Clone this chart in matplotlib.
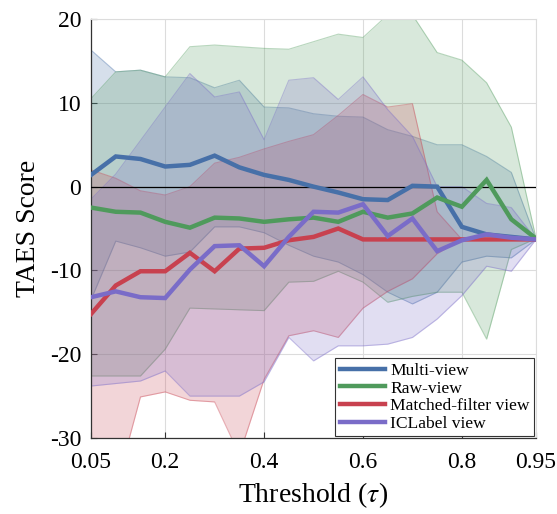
import matplotlib
matplotlib.use("Agg")
import matplotlib.pyplot as plt

plt.rcParams['font.family'] = ['Liberation Serif', 'DejaVu Serif']
plt.rcParams['mathtext.fontset'] = 'stix'

# ---------------- data ----------------
thresholds = [0.05, 0.10, 0.15, 0.20, 0.25, 0.30, 0.35, 0.40, 0.45, 0.50,
              0.55, 0.60, 0.65, 0.70, 0.75, 0.80, 0.85, 0.90, 0.95]

multi_mean = [1.4, 3.6, 3.3, 2.4, 2.6, 3.7, 2.3, 1.4, 0.8, 0.0,
              -0.7, -1.5, -1.6, 0.1, 0.0, -4.8, -5.7, -6.0, -6.3]
multi_upper = [16.3, 13.7, 13.9, 13.1, 13.0, 11.8, 12.7, 9.5, 9.4, 8.7,
               8.4, 8.3, 6.8, 6.0, 5.0, 5.0, 3.6, 1.7, -6.3]
multi_lower = [-13.5, -6.5, -7.3, -8.3, -7.8, -4.8, -4.8, -5.5, -7.0, -8.3,
               -9.0, -10.5, -12.6, -14.0, -12.6, -9.0, -8.3, -8.5, -6.3]

raw_mean = [-2.5, -3.0, -3.1, -4.2, -4.9, -3.7, -3.8, -4.2, -3.9, -3.7,
            -4.2, -3.0, -3.7, -3.2, -1.3, -2.4, 0.8, -3.9, -6.2]
raw_upper = [10.5, 13.7, 13.9, 13.1, 16.7, 16.9, 16.7, 16.5, 16.4, 17.3,
             18.2, 17.8, 20.5, 20.5, 16.0, 15.1, 12.4, 7.1, -6.2]
raw_lower = [-22.6, -22.6, -22.6, -19.4, -14.5, -14.6, -14.7, -14.8, -11.4, -11.3,
             -10.1, -11.4, -13.8, -13.1, -12.6, -12.6, -18.2, -7.5, -6.2]

mf_mean = [-15.2, -11.8, -10.1, -10.1, -7.9, -10.1, -7.4, -7.3, -6.4, -6.0,
           -5.0, -6.3, -6.3, -6.3, -6.3, -6.3, -6.3, -6.3, -6.3]
mf_upper = [2.0, 1.0, -0.5, -1.0, 0.0, 2.8, 3.5, 4.5, 5.4, 6.2,
            8.5, 11.0, 9.5, 9.9, -3.0, -6.3, -6.3, -6.3, -6.3]
mf_lower = [-38.0, -36.0, -25.1, -24.5, -25.5, -25.7, -32.0, -23.0, -17.8, -17.2,
            -18.0, -14.5, -12.5, -11.0, -8.0, -6.3, -6.3, -6.3, -6.3]

ic_mean = [-13.2, -12.5, -13.2, -13.3, -9.9, -7.1, -7.0, -9.5, -6.0, -3.0,
           -3.1, -2.1, -5.9, -3.8, -7.7, -6.4, -5.7, -6.1, -6.3]
ic_upper = [-1.5, 1.5, 5.5, 9.5, 13.5, 10.7, 11.3, 5.6, 12.7, 13.0,
            10.4, 13.1, 9.2, 6.0, 0.0, 0.0, -2.0, -2.5, -6.3]
ic_lower = [-23.8, -23.5, -23.2, -22.0, -25.0, -25.0, -25.0, -23.3, -18.0, -20.8,
            -19.0, -19.0, -18.8, -18.0, -15.8, -13.0, -9.5, -10.1, -6.3]

labels = ['Multi-view', 'Raw-view', 'Matched-filter view', 'ICLabel view']
colors = ['#4770a8', '#4f9a5c', '#c8414f', '#7a6cc8']

xtick_vals = [0.05, 0.2, 0.4, 0.6, 0.8, 0.95]
xtick_labels = ['0.05', '0.2', '0.4', '0.6', '0.8', '0.95']
ytick_vals = [-30, -20, -10, 0, 10, 20]
ytick_labels = ['-30', '-20', '-10', '0', '10', '20']

# ---------------- figure ----------------
fig = plt.figure(figsize=(5.57, 5.14), dpi=100)
ax = fig.add_axes([0.1634, 0.1479, 0.799, 0.815])

series = [(multi_mean, multi_lower, multi_upper),
          (raw_mean, raw_lower, raw_upper),
          (mf_mean, mf_lower, mf_upper),
          (ic_mean, ic_lower, ic_upper)]

for (m, lo, up), c in zip(series, colors):
    ax.fill_between(thresholds, lo, up, color=c, alpha=0.22, linewidth=0, zorder=1)
    ax.plot(thresholds, up, color=c, alpha=0.4, lw=0.8, zorder=1)
    ax.plot(thresholds, lo, color=c, alpha=0.4, lw=0.8, zorder=1)

ax.axhline(0, color='black', lw=0.9, zorder=3)

for (m, lo, up), c, lab in zip(series, colors, labels):
    ax.plot(thresholds, m, color=c, lw=3.2, label=lab, zorder=4,
            solid_joinstyle='miter')

ax.set_xlim(0.05, 0.95)
ax.set_ylim(-30, 20)
ax.set_xticks(xtick_vals)
ax.set_xticklabels(xtick_labels)
ax.set_yticks(ytick_vals)
ax.set_yticklabels(ytick_labels)

ax.grid(True, color='#dcdcdc', lw=0.8, zorder=0)
ax.set_axisbelow(True)
for s in ['top', 'right']:
    ax.spines[s].set_color('#dcdcdc')
    ax.spines[s].set_linewidth(0.8)
for s in ['left', 'bottom']:
    ax.spines[s].set_color('#333333')
    ax.spines[s].set_linewidth(0.9)

ax.tick_params(direction='in', length=4, labelsize=17, color='#333333',
               top=False, right=False)
ax.tick_params(axis='x', pad=10)
ax.tick_params(axis='y', pad=7)

ax.set_xlabel(r'Threshold ($\tau$)', fontsize=20, labelpad=5)
ax.set_ylabel('TAES Score', fontsize=20, labelpad=6)

leg = ax.legend(loc='lower right', fontsize=12.6, frameon=True, fancybox=False,
                edgecolor='#333333', framealpha=1, borderaxespad=0.1,
                handlelength=2.6, handletextpad=0.3, labelspacing=0.08,
                borderpad=0.25)
leg.get_frame().set_linewidth(0.8)

fig.savefig('out.png', dpi=100)
